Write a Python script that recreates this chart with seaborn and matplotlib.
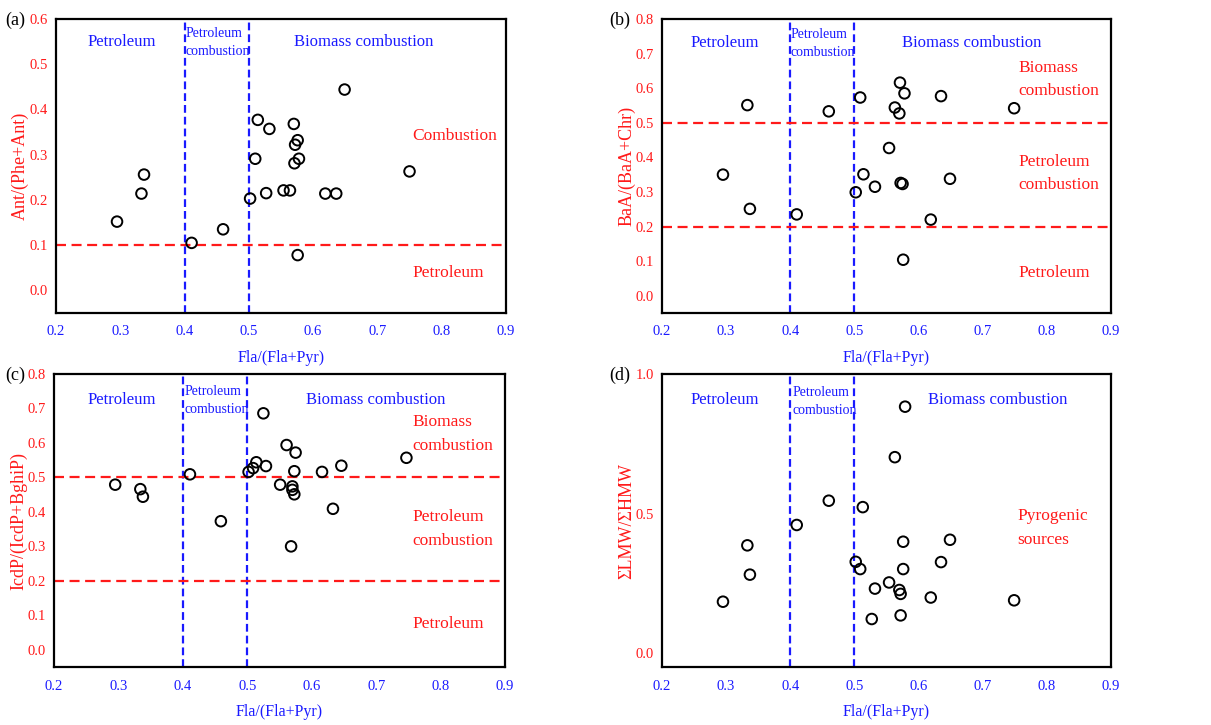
import numpy as np
import matplotlib
matplotlib.use("Agg")
import matplotlib.pyplot as plt
import seaborn as sns

sns.set_theme(style="white")
plt.rcParams['font.family'] = ['Liberation Serif', 'DejaVu Serif']
plt.rcParams['axes.unicode_minus'] = False

# Fla/(Fla+Pyr) for each panel, with the matching ratio on the y axis
fla_a = [0.295, 0.333, 0.337, 0.411, 0.460, 0.502, 0.510, 0.514, 0.527, 0.532, 0.554,
         0.564, 0.570, 0.572, 0.576, 0.571, 0.578, 0.576, 0.619, 0.636, 0.649, 0.750]
ant_phe = [0.152, 0.214, 0.256, 0.105, 0.135, 0.203, 0.291, 0.377, 0.215, 0.357, 0.221,
           0.221, 0.368, 0.322, 0.332, 0.281, 0.291, 0.078, 0.214, 0.214, 0.444, 0.263]

fla_b = [0.295, 0.333, 0.337, 0.410, 0.460, 0.502, 0.509, 0.514, 0.532, 0.554, 0.563,
         0.570, 0.571, 0.572, 0.575, 0.578, 0.576, 0.619, 0.635, 0.649, 0.749]
baa_chr = [0.350, 0.551, 0.251, 0.235, 0.533, 0.299, 0.573, 0.351, 0.315, 0.427, 0.544,
           0.527, 0.616, 0.326, 0.323, 0.585, 0.104, 0.220, 0.577, 0.338, 0.542]

fla_c = [0.295, 0.334, 0.338, 0.411, 0.459, 0.502, 0.509, 0.514, 0.525, 0.529, 0.551,
         0.561, 0.568, 0.570, 0.570, 0.573, 0.575, 0.573, 0.616, 0.633, 0.646, 0.747]
icdp_bghip = [0.479, 0.466, 0.444, 0.509, 0.373, 0.516, 0.527, 0.544, 0.686, 0.533, 0.479,
              0.594, 0.300, 0.474, 0.464, 0.451, 0.572, 0.518, 0.516, 0.409, 0.534, 0.557]

fla_d = [0.295, 0.333, 0.337, 0.410, 0.460, 0.502, 0.509, 0.513, 0.527, 0.532, 0.554,
         0.563, 0.570, 0.572, 0.572, 0.576, 0.576, 0.579, 0.619, 0.635, 0.649, 0.749]
lmw_hmw = [0.184, 0.386, 0.281, 0.459, 0.546, 0.327, 0.301, 0.523, 0.122, 0.231, 0.253,
           0.702, 0.226, 0.212, 0.135, 0.399, 0.301, 0.883, 0.199, 0.326, 0.406, 0.189]

x_ticks = [0.2, 0.3, 0.4, 0.5, 0.6, 0.7, 0.8, 0.9]
x_limits = [0.4, 0.5]

BLUE = '#1a1aff'
RED = '#ff1a1a'

panels = [
    dict(tag="(a)", x=fla_a, y=ant_phe, ylabel="Ant/(Phe+Ant)", ymax=0.6,
         yticks=[0.0, 0.1, 0.2, 0.3, 0.4, 0.5, 0.6], hlines=[0.1],
         pos=[0.0462, 0.5683, 0.3716, 0.4055],
         blue=[(0.302, 0.55), (0.401, 0.547), (0.678, 0.55)],
         red=[(0.755, 0.342, "Combustion"), (0.755, 0.038, "Petroleum")]),
    dict(tag="(b)", x=fla_b, y=baa_chr, ylabel="BaA/(BaA+Chr)", ymax=0.8,
         yticks=[0.0, 0.1, 0.2, 0.3, 0.4, 0.5, 0.6, 0.7, 0.8], hlines=[0.2, 0.5],
         pos=[0.5467, 0.5683, 0.3707, 0.4055],
         blue=[(0.298, 0.731), (0.401, 0.729), (0.683, 0.731)],
         red=[(0.755, 0.625, "Biomass\ncombustion"), (0.755, 0.353, "Petroleum\ncombustion"),
              (0.755, 0.066, "Petroleum")]),
    dict(tag="(c)", x=fla_c, y=icdp_bghip, ylabel="IcdP/(IcdP+BghiP)", ymax=0.8,
         yticks=[0.0, 0.1, 0.2, 0.3, 0.4, 0.5, 0.6, 0.7, 0.8], hlines=[0.2, 0.5],
         pos=[0.0446, 0.08, 0.3724, 0.4041],
         blue=[(0.305, 0.724), (0.403, 0.723), (0.700, 0.724)],
         red=[(0.757, 0.625, "Biomass\ncombustion"), (0.757, 0.350, "Petroleum\ncombustion"),
              (0.757, 0.074, "Petroleum")]),
    dict(tag="(d)", x=fla_d, y=lmw_hmw, ylabel="ΣLMW/ΣHMW", ymax=1.0,
         yticks=[0.0, 0.5, 1.0], hlines=[],
         pos=[0.5467, 0.08, 0.3707, 0.4041],
         blue=[(0.298, 0.908), (0.403, 0.902), (0.723, 0.908)],
         red=[(0.754, 0.448, "Pyrogenic\nsources")]),
]

fig = plt.figure(figsize=(12.11, 7.25), dpi=100)

for p in panels:
    ax = fig.add_axes(p['pos'])
    for xv in x_limits:
        ax.axvline(xv, color=BLUE, lw=1.6, ls=(0, (3.5, 1.8)), zorder=1)
    for yv in p['hlines']:
        ax.axhline(yv, color=RED, lw=1.6, ls=(0, (4.5, 2.5)), zorder=1)

    sns.scatterplot(x=p['x'], y=p['y'], ax=ax, s=58, facecolor='none',
                    edgecolor='black', linewidth=1.4, zorder=3)

    ax.set_xlim(0.2, 0.9)
    ax.set_ylim(-0.05, p['ymax'])
    ax.set_xticks(x_ticks)
    ax.set_yticks(p['yticks'])
    ax.set_xticklabels([f"{v:.1f}" for v in x_ticks], color=BLUE, fontsize=10.5)
    ax.set_yticklabels([f"{v:.1f}" for v in p['yticks']], color=RED, fontsize=10.5)
    ax.tick_params(axis='x', direction='inout', length=8, width=1.5, pad=5)
    ax.tick_params(axis='y', direction='out', length=4, width=1.5, pad=2)
    for s in ax.spines.values():
        s.set_color('black')
        s.set_linewidth(1.6)
    ax.grid(False)

    ax.set_xlabel("Fla/(Fla+Pyr)", color=BLUE, fontsize=11.5, labelpad=8)
    ax.set_ylabel(p['ylabel'], color=RED, fontsize=13)
    ax.yaxis.set_label_coords(-0.06, 0.5)

    (bx1, by1), (bx2, by2), (bx3, by3) = p['blue']
    ax.text(bx1, by1, "Petroleum", color=BLUE, fontsize=12, ha='center', va='center')
    ax.text(bx2, by2, "Petroleum\ncombustion", color=BLUE, fontsize=10,
            ha='left', va='center', linespacing=1.5)
    ax.text(bx3, by3, "Biomass combustion", color=BLUE, fontsize=12, ha='center', va='center')
    for rx, ry, label in p['red']:
        ax.text(rx, ry, label, color=RED, fontsize=12.5, ha='left', va='center',
                linespacing=1.65)

    bb = p['pos']
    tag_x = 0.004 if bb[0] < 0.5 else 0.5035
    fig.text(tag_x, bb[1] + bb[3] - 0.002, p['tag'], fontsize=13, color='black',
             ha='left', va='center')

fig.savefig("out.png", dpi=100)
